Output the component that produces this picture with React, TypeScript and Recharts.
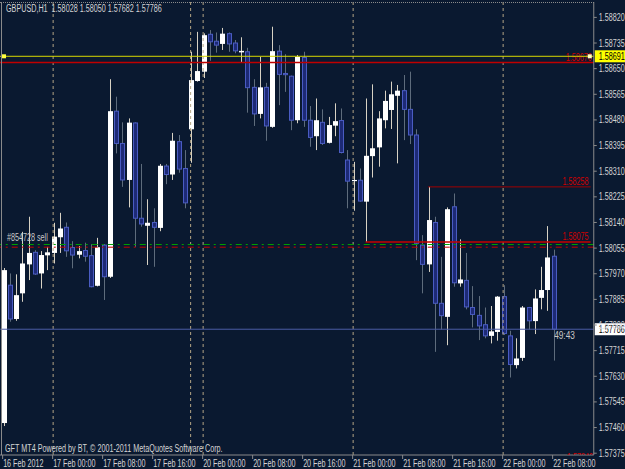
import React from 'react';
import { ComposedChart, Bar, XAxis, YAxis, ReferenceLine, ReferenceDot } from 'recharts';

// GBPUSD H1, 16 Feb 2012 16:00 .. 22 Feb 08:00
const opens = [
  1.57475, 1.57932, 1.57820, 1.57905, 1.58001, 1.58041, 1.57971, 1.58031, 1.58039, 1.58091,
  1.58124, 1.58057, 1.58033, 1.58047, 1.58030, 1.57930, 1.58065, 1.57960, 1.58509, 1.58402,
  1.58281, 1.58470, 1.58154, 1.58129, 1.58140, 1.58122, 1.58327, 1.58299, 1.58408, 1.58319,
  1.58449, 1.58609, 1.58640, 1.58764, 1.58741, 1.58732, 1.58766, 1.58735, 1.58704, 1.58706,
  1.58588, 1.58500, 1.58588, 1.58457, 1.58708, 1.58634, 1.58625, 1.58479, 1.58687, 1.58479,
  1.58426, 1.58472, 1.58404, 1.58461, 1.58478, 1.58347, 1.58277, 1.58280, 1.58209, 1.58360,
  1.58389, 1.58479, 1.58513, 1.58560, 1.58577, 1.58515, 1.58430, 1.58065, 1.58001, 1.58140,
  1.57872, 1.57827, 1.58192, 1.57938, 1.57948, 1.57858, 1.57832, 1.57801, 1.57764, 1.57777,
  1.57894, 1.57764, 1.57667, 1.57691, 1.57858, 1.57813, 1.57890, 1.57916, 1.58028,
];
const highs = [
  1.57989, 1.57971, 1.57968, 1.58109, 1.58159, 1.58048, 1.58045, 1.58059, 1.58139, 1.58172,
  1.58140, 1.58078, 1.58062, 1.58073, 1.58068, 1.58089, 1.58068, 1.58615, 1.58557, 1.58472,
  1.58485, 1.58472, 1.58334, 1.58217, 1.58187, 1.58334, 1.58334, 1.58437, 1.58430, 1.58380,
  1.58706, 1.58772, 1.58767, 1.58778, 1.58770, 1.58785, 1.58770, 1.58745, 1.58754, 1.58719,
  1.58615, 1.58689, 1.58603, 1.58789, 1.58728, 1.58698, 1.58627, 1.58695, 1.58706, 1.58526,
  1.58551, 1.58515, 1.58490, 1.58535, 1.58518, 1.58380, 1.58341, 1.58319, 1.58551, 1.58598,
  1.58509, 1.58577, 1.58607, 1.58596, 1.58629, 1.58640, 1.58449, 1.58098, 1.58258, 1.58159,
  1.58026, 1.58190, 1.58236, 1.58084, 1.58039, 1.57929, 1.57896, 1.57858, 1.57863, 1.57896,
  1.57932, 1.57781, 1.57756, 1.57863, 1.57860, 1.57918, 1.57993, 1.58128, 1.58050,
];
const lows = [
  1.57465, 1.57811, 1.57814, 1.57877, 1.57949, 1.57966, 1.57921, 1.57982, 1.58004, 1.58039,
  1.58026, 1.57988, 1.58021, 1.58010, 1.57925, 1.57928, 1.57883, 1.57956, 1.58369, 1.58258,
  1.58190, 1.58059, 1.58126, 1.57999, 1.57993, 1.58111, 1.58267, 1.58281, 1.58305, 1.58187,
  1.58338, 1.58607, 1.58619, 1.58676, 1.58703, 1.58712, 1.58706, 1.58701, 1.58670, 1.58504,
  1.58460, 1.58485, 1.58411, 1.58454, 1.58529, 1.58573, 1.58446, 1.58469, 1.58457, 1.58391,
  1.58380, 1.58397, 1.58402, 1.58426, 1.58369, 1.58187, 1.58179, 1.58209, 1.58075, 1.58289,
  1.58325, 1.58452, 1.58450, 1.58336, 1.58413, 1.58400, 1.58015, 1.57905, 1.57976, 1.57711,
  1.57785, 1.57733, 1.57927, 1.57927, 1.57852, 1.57792, 1.57750, 1.57756, 1.57739, 1.57748,
  1.57767, 1.57626, 1.57656, 1.57681, 1.57785, 1.57770, 1.57852, 1.57847, 1.57682,
];
const closes = [
  1.57982, 1.57820, 1.57899, 1.58004, 1.58039, 1.57969, 1.58032, 1.58041, 1.58093, 1.58120,
  1.58046, 1.58032, 1.58045, 1.58028, 1.57927, 1.58058, 1.57960, 1.58509, 1.58402, 1.58281,
  1.58471, 1.58154, 1.58135, 1.58139, 1.58124, 1.58328, 1.58299, 1.58411, 1.58317, 1.58205,
  1.58612, 1.58642, 1.58761, 1.58739, 1.58728, 1.58766, 1.58732, 1.58709, 1.58709, 1.58587,
  1.58500, 1.58588, 1.58460, 1.58708, 1.58631, 1.58630, 1.58479, 1.58689, 1.58479, 1.58422,
  1.58479, 1.58402, 1.58463, 1.58476, 1.58372, 1.58277, 1.58281, 1.58211, 1.58361, 1.58386,
  1.58485, 1.58543, 1.58565, 1.58577, 1.58515, 1.58430, 1.58071, 1.58001, 1.58148, 1.57872,
  1.57831, 1.58184, 1.57940, 1.57951, 1.57860, 1.57835, 1.57797, 1.57764, 1.57779, 1.57894,
  1.57772, 1.57669, 1.57689, 1.57858, 1.57814, 1.57888, 1.57916, 1.58024, 1.57786,
];

const xLabels = [
  '16 Feb 2012', '17 Feb 00:00', '17 Feb 08:00', '17 Feb 16:00', '20 Feb 00:00', '20 Feb 08:00',
  '20 Feb 16:00', '21 Feb 00:00', '21 Feb 08:00', '21 Feb 16:00', '22 Feb 00:00', '22 Feb 08:00',
];
const xLabelBars = [0, 8, 16, 24, 32, 40, 48, 56, 64, 72, 80, 88];
const daySeparators = [8, 30, 32, 56, 80];

const priceTicks = [
  1.5882, 1.58735, 1.5865, 1.58565, 1.5848, 1.58395, 1.5831, 1.58225, 1.5814,
  1.58055, 1.5797, 1.57885, 1.578, 1.57715, 1.5763, 1.57545, 1.5746, 1.57375,
];

const bidPrice = 1.57786;
const alertPrice = 1.58691;
const orderPrice = 1.58067;
const stopPrice = 1.58058;
const redLevel = 1.5867;
const level1 = 1.58258;
const level2 = 1.58075;

const EMPTY_SLOTS = 6;

const data = [
  ...opens.map((o, i) => ({ i, range: [lows[i], highs[i]], o, h: highs[i], l: lows[i], c: closes[i] })),
  ...Array.from({ length: EMPTY_SLOTS }, (_, k) => ({ i: opens.length + k, range: null })),
];

const BG = '#0a1930';
const AXIS = '#8a8a8a';
const TXT = '#d4d4d4';
const FONT = "'Liberation Sans', Arial, sans-serif";
const FS = 10;
const SX = 0.72; // MT4 font is narrow

// narrow text, drawn in svg
function NText({ x, y, fill, anchor = 'start', size = FS, children }: any) {
  return (
    <text
      transform={`translate(${x},${y}) scale(${SX},1)`}
      fill={fill}
      fontSize={size}
      fontFamily={FONT}
      textAnchor={anchor}
    >
      {children}
    </text>
  );
}

function Candle(props: any) {
  const { x, y, width, height, payload } = props;
  if (!payload || payload.o == null) return null;
  const { o, h, l, c } = payload;
  const top = Math.min(y, y + height);
  const span = Math.abs(height);
  const py = (v: number) => top + ((h - v) / (h - l)) * span;
  const cx = Math.round(x + width / 2) + 0.5;
  const up = c >= o;
  const bTop = py(Math.max(o, c));
  const bh = Math.max(1, py(Math.min(o, c)) - bTop);
  return (
    <g>
      <line x1={cx} x2={cx} y1={top} y2={top + span} stroke={up ? '#d8d2c4' : '#5e6c7c'} strokeWidth={1} />
      {up ? (
        <rect x={cx - 2.5} y={bTop} width={5} height={bh} fill="#ffffff" />
      ) : (
        <rect x={cx - 2} y={bTop} width={4} height={bh} fill="#1d2a76" stroke="#4a5cc2" strokeWidth={1} />
      )}
    </g>
  );
}

function XTick(props: any) {
  const { x, y, payload } = props;
  const k = xLabelBars.indexOf(payload.value);
  if (k < 0) return null;
  return (
    <g>
      <line x1={x - 0.5} x2={x - 0.5} y1={y} y2={y + 4} stroke={AXIS} />
      <NText x={x} y={y + 11.5} fill={TXT}>{xLabels[k]}</NText>
    </g>
  );
}

function YTick(props: any) {
  const { x, y, payload } = props;
  return (
    <g>
      <line x1={x} x2={x + 3} y1={y} y2={y} stroke={AXIS} />
      <NText x={x + 5} y={y + 3.5} fill={TXT}>{payload.value.toFixed(5)}</NText>
    </g>
  );
}

const priceBox = (value: number, fill: string) => (p: any) => {
  const vb = p.viewBox || {};
  const right = vb.x + vb.width;
  return (
    <g>
      <rect x={right + 1} y={vb.y - 6} width={32} height={12} fill={fill} />
      <NText x={right + 5} y={vb.y + 3.5} fill="#000">{value.toFixed(5)}</NText>
    </g>
  );
};

const lineText = (value: string, color: string) => (p: any) => {
  const vb = p.viewBox || {};
  return (
    <NText x={vb.x + vb.width - 2} y={vb.y - 2} fill={color} anchor="end">{value}</NText>
  );
};

const overlayText: React.CSSProperties = {
  position: 'absolute',
  color: TXT,
  fontSize: FS,
  fontFamily: FONT,
  whiteSpace: 'pre',
  lineHeight: '11px',
  transform: `scaleX(${SX})`,
  transformOrigin: '0 0',
};

export default function App() {
  return (
    <div style={{ position: 'absolute', left: 0, top: 0, width: 625, height: 469, background: BG, overflow: 'hidden' }}>
      <ComposedChart width={625} height={469} data={data} margin={{ top: 2, right: 0, bottom: 0, left: 0 }}>
        <XAxis
          dataKey="i"
          type="category"
          interval={0}
          height={14}
          tickSize={0}
          tickMargin={0}
          tick={<XTick />}
          axisLine={{ stroke: AXIS }}
          tickLine={false}
        />
        <YAxis
          orientation="right"
          type="number"
          width={31.25}
          domain={[1.57369, 1.58871]}
          allowDataOverflow
          ticks={priceTicks}
          interval={0}
          tickSize={0}
          tickMargin={0}
          tick={<YTick />}
          axisLine={{ stroke: AXIS }}
          tickLine={false}
        />
        {daySeparators.map((d) => (
          <ReferenceLine key={d} x={d} stroke="#b4a584" strokeDasharray="3 3" strokeWidth={1} />
        ))}
        <ReferenceLine y={orderPrice} stroke="#00a000" strokeDasharray="6 4 2 4" strokeWidth={1}
          label={(p: any) => (
            <NText x={(p.viewBox?.x || 0) + 7} y={(p.viewBox?.y || 0) - 3} fill="#c8c8c8">#854728 sell</NText>
          )}
        />
        <ReferenceLine y={stopPrice} stroke="#c80000" strokeDasharray="6 4 2 4" strokeWidth={1} />
        <ReferenceLine y={bidPrice} stroke="#4c5ca6" strokeWidth={1} label={priceBox(bidPrice, '#ffffff')} />
        <ReferenceLine
          segment={[{ x: 68, y: level1 }, { x: 94, y: level1 }]}
          stroke="#a00000"
          strokeWidth={1}
          label={lineText(level1.toFixed(5), '#d00000')}
        />
        <ReferenceLine
          segment={[{ x: 58, y: level2 }, { x: 94, y: level2 }]}
          stroke="#c80000"
          strokeWidth={1.5}
          label={lineText(level2.toFixed(5), '#d00000')}
        />
        <ReferenceLine y={redLevel} stroke="#c00000" strokeWidth={1.5} label={lineText('1.58670', '#d00000')} />
        <ReferenceLine
          y={alertPrice}
          stroke="#d8d800"
          strokeWidth={1}
          label={(p: any) => {
            const vb = p.viewBox || {};
            return (
              <g>
                <rect x={vb.x + 2} y={vb.y - 2} width={4} height={4} fill="#ffff40" />
                <rect x={vb.x + vb.width - 6} y={vb.y - 2} width={4} height={4} fill="#ffffc0" />
                {priceBox(alertPrice, '#ffff00')(p)}
              </g>
            );
          }}
        />
        <Bar dataKey="range" barSize={5} shape={<Candle />} isAnimationActive={false} />
        <ReferenceDot
          x={88}
          y={bidPrice}
          r={0}
          shape={(p: any) => (
            <NText x={p.cx + 1} y={p.cy + 10} fill="#c8c8c8" size={11.5}>49:43</NText>
          )}
        />
      </ComposedChart>
      <div style={{ position: 'absolute', left: 0, top: 2, width: 594, borderTop: `1px dotted ${AXIS}` }} />
      <div style={{ position: 'absolute', left: 1, top: 2, height: 453, borderLeft: `1px solid ${AXIS}` }} />
      <div style={{ ...overlayText, left: 6, top: 3 }}>{'GBPUSD,H1  1.58028 1.58050 1.57682 1.57786'}</div>
      <div style={{ ...overlayText, left: 5, top: 443 }}>GFT MT4 Powered by BT, © 2001-2011 MetaQuotes Software Corp.</div>
      <div style={{ position: 'absolute', left: 560, top: 452, width: 33, height: 3, overflow: 'hidden' }}>
        <div style={{ ...overlayText, color: '#d00000', left: 7, top: 0 }}>1.57340</div>
      </div>
    </div>
  );
}
